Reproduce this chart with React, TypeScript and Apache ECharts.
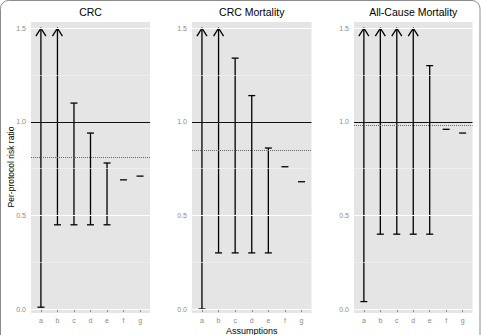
import React, { useEffect, useRef } from 'react';
import * as echarts from 'echarts';

// Assumption scenarios along the x axis
const categories = ['a', 'b', 'c', 'd', 'e', 'f', 'g'];
const yTickValues = [0, 0.5, 1.0, 1.5];
const yMinorValues = [0.25, 0.75, 1.25];

const panelTitles = ['CRC', 'CRC Mortality', 'All-Cause Mortality'];

// CRC incidence: bounds of per-protocol risk ratio
const crcLower = [0.01, 0.45, 0.45, 0.45, 0.45, 0.69, 0.71];
const crcUpper = [1.5, 1.5, 1.1, 0.94, 0.78, 0.69, 0.71];
const crcOpen = [true, true, false, false, false, false, false];

// CRC mortality
const crcMortLower = [0.0, 0.3, 0.3, 0.3, 0.3, 0.76, 0.68];
const crcMortUpper = [1.5, 1.5, 1.34, 1.14, 0.86, 0.76, 0.68];
const crcMortOpen = [true, true, false, false, false, false, false];

// All-cause mortality
const allLower = [0.04, 0.4, 0.4, 0.4, 0.4, 0.96, 0.94];
const allUpper = [1.5, 1.5, 1.5, 1.5, 1.3, 0.96, 0.94];
const allOpen = [true, true, true, true, false, false, false];

// Intention-to-treat estimate (dotted) and null value (solid)
const pooledEstimates = [0.81, 0.85, 0.98];
const nullRatio = 1.0;

const panelLower = [crcLower, crcMortLower, allLower];
const panelUpper = [crcUpper, crcMortUpper, allUpper];
const panelOpen = [crcOpen, crcMortOpen, allOpen];

const FONT = 'Liberation Sans, Arial, sans-serif';
const GRIDS = [
  { left: 31, width: 119 },
  { left: 192, width: 119.5 },
  { left: 354, width: 118.5 },
];
const GRID_TOP = 22;
const GRID_HEIGHT = 291;

function renderErrorBar(params: any, api: any) {
  const x = api.value(0);
  const lo = api.value(1);
  const hi = api.value(2);
  const open = api.value(3);
  const pLo = api.coord([x, lo]);
  const pHi = api.coord([x, hi]);
  const style = { stroke: '#000', lineWidth: 1.3, fill: 'none' };
  const cap = 3.5;
  const children: any[] = [];
  if (hi > lo) {
    children.push({
      type: 'line',
      shape: { x1: pLo[0], y1: pLo[1], x2: pHi[0], y2: pHi[1] },
      style,
    });
  }
  children.push({
    type: 'line',
    shape: { x1: pLo[0] - cap, y1: pLo[1], x2: pLo[0] + cap, y2: pLo[1] },
    style,
  });
  if (open) {
    children.push({
      type: 'polyline',
      shape: {
        points: [
          [pHi[0] - 5, pHi[1] + 8],
          [pHi[0], pHi[1]],
          [pHi[0] + 5, pHi[1] + 8],
        ],
      },
      style,
    });
  } else if (hi > lo) {
    children.push({
      type: 'line',
      shape: { x1: pHi[0] - cap, y1: pHi[1], x2: pHi[0] + cap, y2: pHi[1] },
      style,
    });
  }
  return { type: 'group', children };
}

function hLine(value: number, color: string, width: number, type: string) {
  return {
    yAxis: value,
    lineStyle: { color, width, type },
  };
}

export default function App() {
  const ref = useRef<HTMLDivElement>(null);

  useEffect(() => {
    if (!ref.current) return;
    const chart = echarts.init(ref.current, undefined, { renderer: 'svg' });

    const grid = GRIDS.map((g) => ({
      left: g.left,
      top: GRID_TOP,
      width: g.width,
      height: GRID_HEIGHT,
      show: true,
      backgroundColor: '#E5E5E5',
      borderWidth: 0,
      containLabel: false,
    }));

    const xAxis = GRIDS.map((_, i) => ({
      type: 'value',
      gridIndex: i,
      min: -0.6,
      max: 6.6,
      splitLine: { show: false },
      axisLine: { show: false },
      axisTick: {
        show: true,
        customValues: categories.map((_, k) => k),
        length: 3,
        lineStyle: { color: '#8a8a8a', width: 1 },
      },
      axisLabel: {
        customValues: categories.map((_, k) => k),
        formatter: (v: number) => categories[Math.round(v)] ?? '',
        color: '#8a8a8a',
        fontSize: 7,
        fontFamily: FONT,
        margin: 4,
      },
    }));

    const yAxis = GRIDS.map((_, i) => ({
      type: 'value',
      gridIndex: i,
      min: -0.021,
      max: 1.533,
      splitLine: { show: false },
      axisLine: { show: false },
      axisTick: {
        show: true,
        customValues: yTickValues,
        length: 3,
        lineStyle: { color: '#8a8a8a', width: 1 },
      },
      axisLabel: {
        customValues: yTickValues,
        formatter: (v: number) => v.toFixed(1),
        color: '#8a8a8a',
        fontSize: 7,
        fontFamily: FONT,
        margin: 5,
      },
    }));

    const series: any[] = [];
    GRIDS.forEach((_, i) => {
      // panel grid lines
      series.push({
        type: 'line',
        xAxisIndex: i,
        yAxisIndex: i,
        data: [],
        z: 1,
        silent: true,
        markLine: {
          silent: true,
          symbol: ['none', 'none'],
          label: { show: false },
          emphasis: { disabled: true },
          data: [
            ...yMinorValues.map((v) => hLine(v, '#F2F2F2', 0.6, 'solid')),
            ...yTickValues.map((v) => hLine(v, '#FFFFFF', 1.1, 'solid')),
          ],
        },
      });
      // reference lines
      series.push({
        type: 'line',
        xAxisIndex: i,
        yAxisIndex: i,
        data: [],
        z: 2,
        silent: true,
        markLine: {
          silent: true,
          symbol: ['none', 'none'],
          label: { show: false },
          emphasis: { disabled: true },
          data: [
            hLine(nullRatio, '#111', 1, 'solid'),
            hLine(pooledEstimates[i], '#666', 1, 'dotted'),
          ],
        },
      });
      // error bars
      series.push({
        type: 'custom',
        xAxisIndex: i,
        yAxisIndex: i,
        z: 3,
        silent: true,
        renderItem: renderErrorBar,
        encode: { x: 0, y: [1, 2] },
        data: categories.map((_, k) => [
          k,
          panelLower[i][k],
          panelUpper[i][k],
          panelOpen[i][k] ? 1 : 0,
        ]),
      });
    });

    const graphic: any[] = [
      {
        type: 'rect',
        shape: { x: 0.5, y: 0.5, width: 479.5, height: 350, r: 8 },
        style: { fill: 'none', stroke: '#8c8c8c', lineWidth: 1 },
        silent: true,
      },
      ...panelTitles.map((t, i) => ({
        type: 'text',
        x: GRIDS[i].left + GRIDS[i].width / 2,
        y: 12,
        style: {
          text: t,
          fontSize: 10.5,
          fontFamily: FONT,
          fill: '#000',
          textAlign: 'center',
          textVerticalAlign: 'middle',
        },
      })),
      {
        type: 'text',
        x: 10.5,
        y: 167,
        rotation: Math.PI / 2,
        style: {
          text: 'Per-protocol risk ratio',
          fontSize: 8.5,
          fontFamily: FONT,
          fill: '#000',
          textAlign: 'center',
          textVerticalAlign: 'middle',
        },
      },
      {
        type: 'text',
        x: GRIDS[1].left + GRIDS[1].width / 2,
        y: 330.5,
        style: {
          text: 'Assumptions',
          fontSize: 9,
          fontFamily: FONT,
          fill: '#000',
          textAlign: 'center',
          textVerticalAlign: 'middle',
        },
      },
    ];

    chart.setOption({
      animation: false,
      backgroundColor: '#FFFFFF',
      grid,
      xAxis,
      yAxis,
      series,
      graphic,
    });

    return () => chart.dispose();
  }, []);

  return (
    <div
      ref={ref}
      style={{ position: 'fixed', left: 0, top: 0, width: 481, height: 335 }}
    />
  );
}
